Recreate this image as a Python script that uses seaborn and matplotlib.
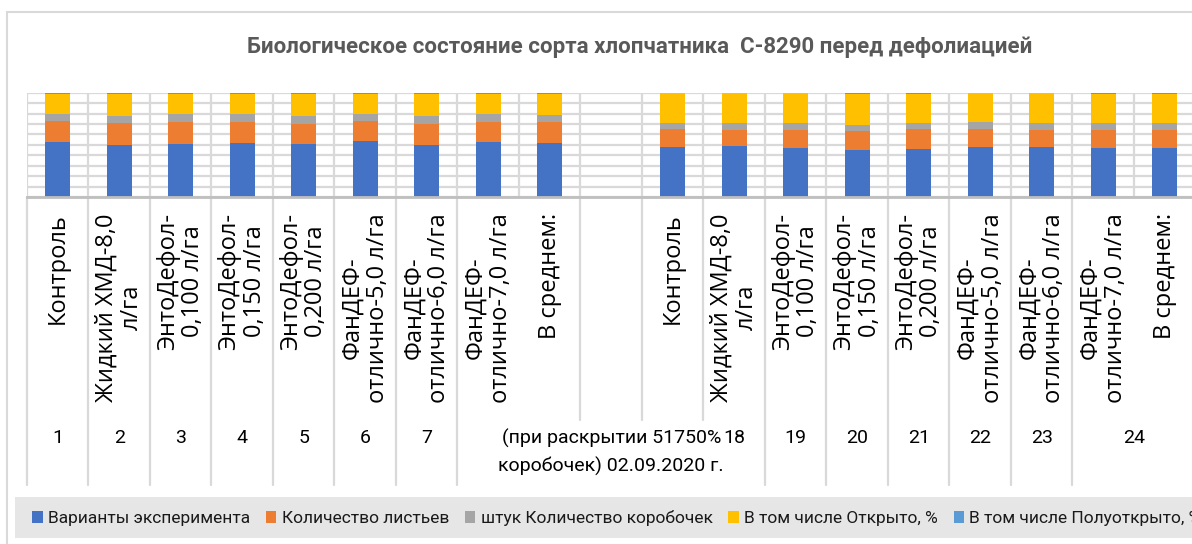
import matplotlib
matplotlib.use("Agg")
import matplotlib.pyplot as plt
import matplotlib.transforms as mtransforms
from matplotlib.patches import Patch, Rectangle
from matplotlib.lines import Line2D
import numpy as np
import pandas as pd
import seaborn as sns

sns.set_style("white")
plt.rcParams['font.family'] = ['DejaVu Sans']

# ---- data ----
title = "Биологическое состояние сорта хлопчатника  С-8290 перед дефолиацией"

variants = ["Контроль", "Жидкий ХМД-8,0\nл/га", "ЭнтоДефол-\n0,100 л/га", "ЭнтоДефол-\n0,150 л/га",
            "ЭнтоДефол-\n0,200 л/га", "ФанДЕФ-\nотлично-5,0 л/га", "ФанДЕФ-\nотлично-6,0 л/га",
            "ФанДЕФ-\nотлично-7,0 л/га", "В среднем:"]
categories = variants + [""] + variants

# second level of the category axis: (label, first slot, last slot)
groups = [("1", 0, 0), ("2", 1, 1), ("3", 2, 2), ("4", 3, 3), ("5", 4, 4), ("6", 5, 5), ("7", 6, 6),
          ("(при раскрытии 51750%\nкоробочек) 02.09.2020 г.", 7, 11), ("18", 11, 11),
          ("19", 12, 12), ("20", 13, 13), ("21", 14, 14), ("22", 15, 15), ("23", 16, 16), ("24", 17, 18)]

series = ["Варианты эксперимента", "Количество листьев", "штук Количество коробочек",
          "В том числе Открыто, %", "В том числе Полуоткрыто, %"]

variants_exp = [52.9, 49.7, 51.0, 51.9, 51.0, 53.8, 49.4, 53.2, 52.2, 0,
                47.5, 49.0, 47.1, 45.2, 46.2, 48.1, 48.1, 47.0, 47.0]
leaves = [19.9, 21.2, 20.8, 19.9, 18.9, 18.9, 21.0, 18.8, 19.7, 0,
          17.5, 15.7, 17.6, 17.9, 18.6, 16.7, 16.0, 17.1, 17.1]
bolls = [7.1, 7.1, 8.0, 8.0, 8.0, 7.1, 7.6, 8.0, 7.0, 0,
         6.1, 6.1, 6.1, 5.8, 6.1, 7.1, 6.9, 6.7, 6.7]
opened = [19.2, 21.2, 19.2, 19.2, 21.2, 19.2, 21.0, 19.1, 20.1, 0,
          28.3, 28.5, 28.5, 30.1, 28.1, 27.5, 28.4, 28.3, 28.3]
half_open = [0.9, 0.8, 1.0, 1.0, 0.9, 1.0, 1.0, 0.9, 1.0, 0,
             0.6, 0.7, 0.7, 1.0, 1.0, 0.6, 0.6, 0.9, 0.9]

colors = ["#4472c4", "#ed7d31", "#a5a5a5", "#ffc000", "#5b9bd5"]

# 100% stacked
df = pd.DataFrame(dict(zip(series, [variants_exp, leaves, bolls, opened, half_open])))
tot = df.sum(axis=1).replace(0, np.nan)
pct = df.div(tot, axis=0).fillna(0) * 100
slots = np.arange(len(df))

narrow = ['Roboto', 'DejaVu Sans']
wide = ['Open Sans', 'DejaVu Sans']
W, H = 1192, 544
def fy(px):
    return 1 - px / H

fig = plt.figure(figsize=(W / 100, H / 100), dpi=100)
ax = fig.add_axes([27 / W, fy(197), 19 * 61.5 / W, (197 - 92.7) / H])

bottom = np.zeros(len(df))
for name, col in zip(series, colors):
    sns.barplot(x=slots, y=pct[name].values, color=col, saturation=1, width=0.4,
                bottom=bottom.copy(), errorbar=None, linewidth=0, ax=ax, zorder=3)
    bottom += pct[name].values

ax.set_xlim(-0.5, 18.5)
ax.set_ylim(0, 100)
ax.set_xlabel("")
ax.set_ylabel("")
ax.set_yticks(range(0, 101, 10))
ax.set_xticks([])
ax.set_xticks(np.arange(-0.5, 19, 1), minor=True)
ax.grid(True, which='major', axis='y', color='#d9d9d9', lw=1.6)
ax.grid(True, which='minor', axis='x', color='#d9d9d9', lw=1.6)
ax.tick_params(which='both', length=0, labelleft=False, labelbottom=False)
for s in ['top', 'left', 'right']:
    ax.spines[s].set_visible(False)
ax.spines['bottom'].set_color('#bfbfbf')
ax.spines['bottom'].set_linewidth(2)
ax.spines['bottom'].set_zorder(4)

tr = mtransforms.blended_transform_factory(ax.transData, fig.transFigure)

# first level labels (rotated)
for i, lab in enumerate(categories):
    ax.text(i, fy(213), lab, rotation=90, ha='center', va='top', transform=tr,
            fontsize=17, family=wide, linespacing=1.08,
            multialignment='center', color='black')

# second level labels
for lab, a, b in groups:
    if "\n" in lab:
        ax.text((a + b) / 2, fy(428.5), lab, ha='center', va='top', transform=tr,
                fontsize=14, family=narrow, linespacing=1.6, color='black')
    else:
        ax.text((a + b) / 2, fy(438), lab, ha='center', va='center', transform=tr,
                fontsize=14, family=narrow, color='black')

# category dividers under the axis
full_div = [-0.5, 0.5, 1.5, 2.5, 3.5, 4.5, 5.5, 6.5, 11.5, 12.5, 13.5, 14.5, 15.5, 16.5, 18.5]
short_div = [8.5, 9.5, 10.5]
for b in full_div:
    ax.plot([b, b], [fy(197), fy(485)], transform=tr, color='#d9d9d9', lw=1.6, clip_on=False)
for b in short_div:
    ax.plot([b, b], [fy(197), fy(420)], transform=tr, color='#d9d9d9', lw=1.6, clip_on=False)

# title
fig.text(640 / W, fy(47), title, ha='center', va='center', fontsize=16, fontweight='bold',
         color='#595959', family=narrow)

# chart area border
fig.add_artist(Line2D([7 / W, 7 / W], [0, fy(12)], transform=fig.transFigure, color='#d9d9d9', lw=1.5))
fig.add_artist(Line2D([7 / W, 1], [fy(12), fy(12)], transform=fig.transFigure, color='#d9d9d9', lw=1.5))

# legend
fig.patches.append(Rectangle((15 / W, fy(538)), 1.0, (538 - 497) / H, transform=fig.transFigure,
                             facecolor='#e7e6e6', edgecolor='none', zorder=0))
handles = [Patch(facecolor=c, edgecolor='none') for c in colors]
fig.legend(handles, series, loc='center left', bbox_to_anchor=(32 / W, fy(518)), ncol=5,
           frameon=False, handlelength=0.62, handleheight=0.62, handletextpad=0.3,
           columnspacing=0.9, borderaxespad=0, borderpad=0,
           prop={'family': narrow, 'size': 12.5}, labelcolor='#1a1a1a')

fig.savefig("out.png", dpi=100)
